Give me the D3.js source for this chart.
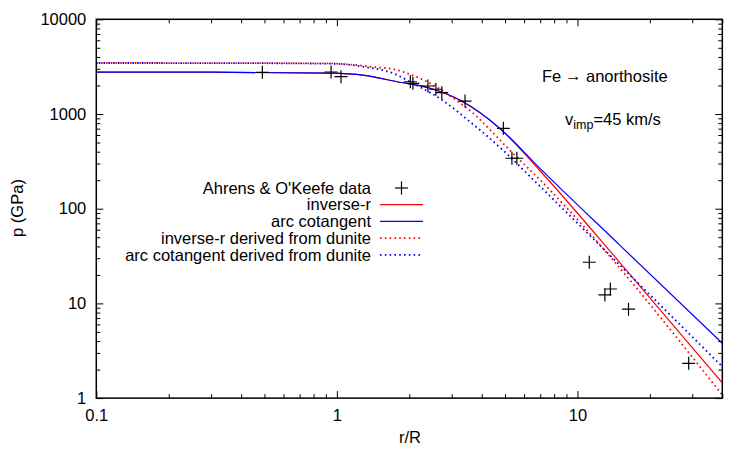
<!DOCTYPE html>
<html>
<head>
<meta charset="utf-8">
<script src="https://cdn.jsdelivr.net/npm/d3@7"></script>
<style>
  body { margin: 0; background: #fff; }
  text { font-family: "Liberation Sans", Arial, Helvetica, sans-serif; }
</style>
</head>
<body>
<div id="chart"></div>
<script>
// Ahrens & O'Keefe data points (r/R, p in GPa)
const dataR = [0.49, 0.946, 1.04, 2.02, 2.07, 2.39, 2.58, 2.73, 3.41, 4.92, 5.34, 5.6, 11.2, 13.0, 13.7, 16.3, 29.0];
const dataP = [2755, 2775, 2480, 2190, 2110, 1975, 1825, 1680, 1370, 706, 341, 341, 27.2, 12.3, 14.2, 8.7, 2.33];

// model curves
const solidR = [0.1, 0.3, 0.94, 1.3, 1.78, 2.44, 3.3, 4.77, 7.0, 15.1, 40];
const inverseP = [2770, 2765, 2700, 2560, 2190, 1870, 1370, 700, 250, 26.5, 1.45];
const arcCotP = [2770, 2765, 2700, 2560, 2190, 1870, 1370, 700, 265, 40.5, 3.8];

const invDunR = [0.1, 0.3, 0.94, 1.1, 1.4, 1.78, 1.95, 2.37, 3.04, 3.69, 4.34, 5.09, 7.0, 40];
const invDunP = [3456, 3450, 3420, 3350, 3150, 2916, 2700, 2193, 1476, 1017, 678, 445, 201, 1.08];

const arcDunR = [0.1, 0.3, 0.94, 1.3, 1.71, 2.07, 2.8, 3.47, 5.09, 6.36, 40];
const arcDunP = [3456, 3450, 3400, 3150, 2690, 2110, 1350, 880, 380, 218, 2.15];

const legendLabels = ["Ahrens & O'Keefe data", "inverse-r", "arc cotangent",
  "inverse-r derived from dunite", "arc cotangent derived from dunite"];

const xTicks = [0.1, 1, 10];
const xTickLabels = ["0.1", "1", "10"];
const yTicks = [1, 10, 100, 1000, 10000];
const yTickLabels = ["1", "10", "100", "1000", "10000"];

const W = 750, H = 450;
const mLeft = 96.3, mRight = 722.3, mTop = 19.3, mBottom = 398.1;
const fs = 16.5;

const svg = d3.select("#chart").append("svg")
  .attr("width", W).attr("height", H);

const x = d3.scaleLog().domain([0.1, 40]).range([mLeft, mRight]);
const y = d3.scaleLog().domain([1, 10000]).range([mBottom, mTop]);

// minor ticks: 2..9 inside each decade
const xMinor = [];
[0.1, 1, 10].forEach(d => { for (let k = 2; k <= 9; k++) if (d * k <= 40) xMinor.push(d * k); });
const yMinor = [];
[1, 10, 100, 1000].forEach(d => { for (let k = 2; k <= 9; k++) yMinor.push(d * k); });

const fmtX = d => xTickLabels[xTicks.indexOf(d)];
const fmtY = d => yTickLabels[yTicks.indexOf(d)];

function styleAxis(g) {
  g.select(".domain").remove();
  g.selectAll("line").attr("stroke", "#000").attr("stroke-width", 1);
  g.selectAll("text").attr("font-size", fs).attr("fill", "#000");
}

// bottom
svg.append("g").attr("transform", `translate(0,${mBottom})`)
  .call(d3.axisBottom(x).tickValues(xTicks).tickSizeInner(-7).tickSizeOuter(0).tickPadding(11).tickFormat(fmtX))
  .call(styleAxis);
svg.append("g").attr("transform", `translate(0,${mBottom})`)
  .call(d3.axisBottom(x).tickValues(xMinor).tickSizeInner(-4).tickSizeOuter(0).tickFormat(""))
  .call(styleAxis);
// top (mirror)
svg.append("g").attr("transform", `translate(0,${mTop})`)
  .call(d3.axisTop(x).tickValues(xTicks).tickSizeInner(-7).tickSizeOuter(0).tickFormat(""))
  .call(styleAxis);
svg.append("g").attr("transform", `translate(0,${mTop})`)
  .call(d3.axisTop(x).tickValues(xMinor).tickSizeInner(-4).tickSizeOuter(0).tickFormat(""))
  .call(styleAxis);
// left
svg.append("g").attr("transform", `translate(${mLeft},0)`)
  .call(d3.axisLeft(y).tickValues(yTicks).tickSizeInner(-7).tickSizeOuter(0).tickPadding(10).tickFormat(fmtY))
  .call(styleAxis);
svg.append("g").attr("transform", `translate(${mLeft},0)`)
  .call(d3.axisLeft(y).tickValues(yMinor).tickSizeInner(-4).tickSizeOuter(0).tickFormat(""))
  .call(styleAxis);
// right (mirror)
svg.append("g").attr("transform", `translate(${mRight},0)`)
  .call(d3.axisRight(y).tickValues(yTicks).tickSizeInner(-7).tickSizeOuter(0).tickFormat(""))
  .call(styleAxis);
svg.append("g").attr("transform", `translate(${mRight},0)`)
  .call(d3.axisRight(y).tickValues(yMinor).tickSizeInner(-4).tickSizeOuter(0).tickFormat(""))
  .call(styleAxis);

// curves
svg.append("clipPath").attr("id", "plotclip")
  .append("rect").attr("x", mLeft).attr("y", mTop)
  .attr("width", mRight - mLeft).attr("height", mBottom - mTop);

const line = d3.line()
  .x(d => x(d[0]))
  .y(d => y(d[1]))
  .curve(d3.curveMonotoneX);

const series = [
  { r: solidR, p: inverseP, color: "#ff0000", dash: null, off: 0 },
  { r: solidR, p: arcCotP, color: "#0000ff", dash: null, off: 0 },
  { r: invDunR, p: invDunP, color: "#ff0000", dash: "1.6,3.2", off: 0 },
  { r: arcDunR, p: arcDunP, color: "#0000ff", dash: "1.6,3.2", off: 2.4 }
];

const plot = svg.append("g").attr("clip-path", "url(#plotclip)");

series.forEach(s => {
  plot.append("path")
    .datum(s.r.map((r, i) => [r, s.p[i]]))
    .attr("d", line)
    .attr("fill", "none")
    .attr("stroke", s.color)
    .attr("stroke-width", s.dash ? 1.8 : 1.2)
    .attr("stroke-dasharray", s.dash)
    .attr("stroke-dashoffset", s.off);
});

// data crosses
const cs = 6.5;
const pts = plot.selectAll("g.pt")
  .data(dataR.map((r, i) => [r, dataP[i]]))
  .enter().append("g")
  .attr("transform", d => `translate(${x(d[0])},${y(d[1])})`);
pts.append("line").attr("x1", -cs).attr("x2", cs).attr("y1", 0).attr("y2", 0);
pts.append("line").attr("x1", 0).attr("x2", 0).attr("y1", -cs).attr("y2", cs);
pts.selectAll("line").attr("stroke", "#000").attr("stroke-width", 1.2);

// border
svg.append("rect")
  .attr("x", mLeft).attr("y", mTop)
  .attr("width", mRight - mLeft).attr("height", mBottom - mTop)
  .attr("fill", "none").attr("stroke", "#000").attr("stroke-width", 1.5);

// legend
const lgTextX = 371, lgX1 = 380, lgX2 = 423, lgY0 = 188, lgDy = 16.7;
legendLabels.forEach((lab, i) => {
  const yy = lgY0 + i * lgDy;
  svg.append("text")
    .attr("x", lgTextX).attr("y", yy).attr("dy", "0.35em")
    .attr("text-anchor", "end").attr("font-size", fs)
    .text(lab);
  if (i === 0) {
    const cx = (lgX1 + lgX2) / 2;
    svg.append("line").attr("x1", cx - cs).attr("x2", cx + cs).attr("y1", yy).attr("y2", yy)
      .attr("stroke", "#000").attr("stroke-width", 1.2);
    svg.append("line").attr("x1", cx).attr("x2", cx).attr("y1", yy - cs).attr("y2", yy + cs)
      .attr("stroke", "#000").attr("stroke-width", 1.2);
  } else {
    const s = series[i - 1];
    svg.append("line").attr("x1", lgX1).attr("x2", lgX2).attr("y1", yy).attr("y2", yy)
      .attr("stroke", s.color)
      .attr("stroke-width", s.dash ? 1.8 : 1.2)
      .attr("stroke-dasharray", s.dash);
  }
});

// annotations
const ft = svg.append("text").attr("x", 542).attr("y", 82).attr("font-size", fs);
ft.append("tspan").text("Fe");
ft.append("tspan").attr("x", 565).attr("dy", -1).text("\u2192");
ft.append("tspan").attr("x", 586).attr("dy", 1).text("anorthosite");

const vt = svg.append("text").attr("x", 565).attr("y", 125).attr("font-size", fs);
vt.append("tspan").text("v");
vt.append("tspan").attr("font-size", 12.5).attr("dy", 4).text("imp");
vt.append("tspan").attr("dy", -4).text("=45 km/s");

// axis titles
svg.append("text")
  .attr("transform", "translate(23,208) rotate(-90)")
  .attr("text-anchor", "middle").attr("font-size", fs)
  .text("p (GPa)");

svg.append("text")
  .attr("x", 410).attr("y", 443).attr("text-anchor", "middle").attr("font-size", fs)
  .text("r/R");
</script>
</body>
</html>
